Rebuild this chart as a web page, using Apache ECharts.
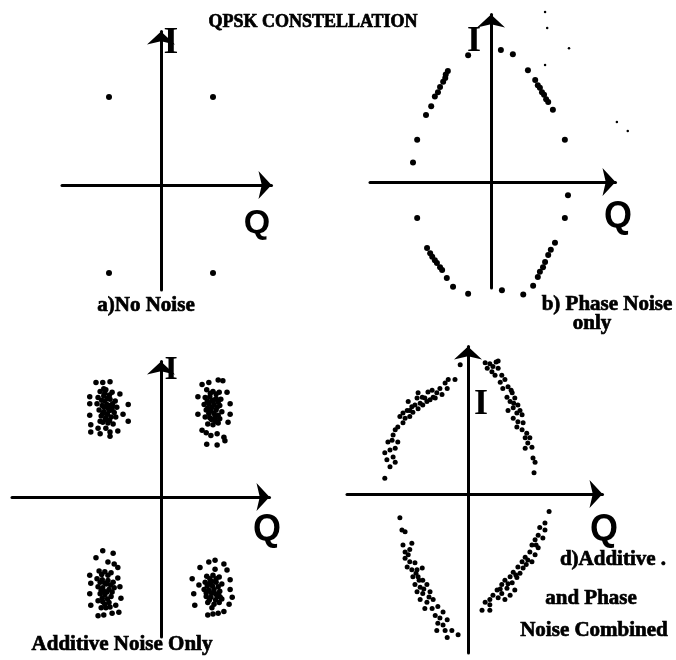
<!DOCTYPE html>
<html>
<head>
<meta charset="utf-8">
<title>QPSK Constellation</title>
<script src="https://cdn.jsdelivr.net/npm/echarts@6/dist/echarts.min.js"></script>
<style>
  html, body { margin: 0; padding: 0; background: #fff; }
  #chart { width: 676px; height: 660px; }
</style>
</head>
<body>
<div id="chart"></div>
<script>
// Normalised amplitudes: ideal QPSK symbols sit at Q = ±1, I = ±1.

// a) No noise
const noNoise = [[-1, 1], [1, 1], [-1, -1], [1, -1]];

// b) Phase noise only: symbols smeared along the constant-amplitude circle
const phaseNoise = [
  [0.19, 1.50], [0.42, 1.45], [0.71, 1.27], [0.85, 1.16], [0.90, 1.10], [0.94, 1.07],
  [0.98, 1.02], [1.02, 0.99], [1.06, 0.94], [1.10, 0.91], [1.19, 0.82], [1.42, 0.48],
  [-0.44, 1.44], [-0.83, 1.26], [-0.87, 1.22], [-0.88, 1.18], [-0.92, 1.14], [-0.98, 1.08],
  [-1.02, 1.02], [-1.08, 0.97], [-1.15, 0.86], [-1.25, 0.76], [-1.42, 0.48], [-1.50, 0.22],
  [1.48, -0.15], [1.42, -0.41], [1.23, -0.69], [1.15, -0.77], [1.10, -0.83], [1.04, -0.91],
  [1.00, -0.97], [0.94, -1.02], [0.90, -1.08], [0.81, -1.18],
  [-1.42, -0.41], [-1.23, -0.75], [-1.17, -0.81], [-1.13, -0.85], [-1.08, -0.89], [-1.04, -0.92],
  [-0.98, -0.97], [-0.94, -1.00], [-0.85, -1.09], [-0.73, -1.19],
  [-0.44, -1.27], [0.21, -1.23], [0.62, -1.28]
];
// faint stray samples in panel b
const phaseStray = [[1.04, 1.93], [1.08, 1.75], [1.50, 1.52], [1.04, 1.33], [2.42, 0.68], [2.63, 0.58]];

// c) Additive noise only: four round clouds
const additiveNoise = [
  // upper left
  [-1.25, 1.30], [-1.12, 1.30], [-0.98, 1.31], [-1.37, 1.14], [-1.37, 1.06], [-1.37, 0.93],
  [-0.79, 1.17], [-0.63, 1.05], [-0.73, 0.94], [-0.63, 0.86], [-1.35, 0.82], [-1.35, 0.74],
  [-1.21, 0.78], [-1.17, 0.72], [-0.98, 0.69], [-0.98, 0.74], [-0.83, 0.75], [-1.10, 1.23],
  [-1.17, 1.20], [-1.06, 1.22], [-0.94, 1.19], [-1.21, 1.13], [-1.10, 1.15], [-0.98, 1.11],
  [-0.88, 1.09], [-1.23, 1.06], [-1.13, 1.04], [-1.04, 1.05], [-0.94, 1.03], [-0.85, 1.02],
  [-1.19, 0.99], [-1.10, 0.97], [-1.00, 0.98], [-0.90, 0.96], [-1.15, 0.92], [-1.06, 0.90],
  [-0.96, 0.91], [-0.87, 0.91], [-1.12, 0.85], [-1.02, 0.84], [-0.92, 0.83], [-1.06, 0.78],
  [-1.17, 0.86], [-1.08, 1.09], [-1.01, 1.01], [-1.08, 1.18], [-0.99, 1.16], [-1.14, 1.10],
  [-1.03, 1.12], [-0.93, 1.06], [-1.09, 1.02], [-0.98, 1.04], [-1.12, 0.95], [-1.03, 0.94],
  [-0.94, 0.99], [-1.07, 0.88], [-0.99, 0.87],
  // upper right
  [0.79, 1.28], [0.92, 1.30], [1.10, 1.33], [1.19, 1.32], [0.71, 1.14], [0.71, 0.94],
  [1.27, 1.19], [1.33, 1.06], [1.33, 0.94], [1.29, 0.85], [0.79, 0.76], [0.87, 0.73],
  [0.96, 0.70], [1.08, 0.72], [1.21, 0.68], [0.88, 0.60], [1.08, 0.59], [1.23, 0.64],
  [0.88, 1.22], [1.00, 1.20], [1.12, 1.19], [0.85, 1.13], [0.94, 1.14], [1.06, 1.12],
  [1.15, 1.11], [0.83, 1.05], [0.92, 1.06], [1.02, 1.05], [1.13, 1.04], [0.87, 0.99],
  [0.96, 0.98], [1.06, 0.99], [1.17, 0.97], [0.85, 0.91], [0.94, 0.90], [1.04, 0.91],
  [1.13, 0.89], [0.90, 0.83], [1.00, 0.82], [1.10, 0.84], [0.98, 1.09], [1.02, 0.95],
  [0.95, 1.18], [1.06, 1.17], [0.89, 1.09], [1.01, 1.10], [1.10, 1.08], [0.90, 1.01],
  [0.98, 1.02], [1.08, 1.02], [0.92, 0.95], [1.10, 0.93], [0.97, 0.88], [1.05, 0.86],
  // lower left
  [-1.12, -0.61], [-0.92, -0.64], [-1.25, -0.69], [-1.02, -0.74], [-0.83, -0.80], [-0.90, -0.76],
  [-1.37, -0.89], [-1.35, -0.98], [-1.37, -1.10], [-1.35, -1.23], [-0.83, -0.92], [-0.79, -1.02],
  [-0.77, -1.15], [-0.87, -1.23], [-1.21, -1.35], [-1.10, -1.34], [-0.94, -1.32], [-0.81, -1.31],
  [-1.19, -0.84], [-1.08, -0.85], [-0.96, -0.86], [-1.23, -0.93], [-1.13, -0.94], [-1.02, -0.95],
  [-0.92, -0.97], [-1.21, -1.02], [-1.12, -1.03], [-1.00, -1.05], [-0.90, -1.03], [-1.17, -1.10],
  [-1.08, -1.11], [-0.96, -1.13], [-1.21, -1.18], [-1.12, -1.19], [-1.00, -1.20], [-1.06, -1.26],
  [-1.15, -1.26], [-1.05, -0.99], [-1.10, -1.07], [-1.14, -0.88], [-1.02, -0.89], [-1.17, -0.97],
  [-1.08, -0.98], [-0.97, -1.00], [-1.15, -1.06], [-1.04, -1.08], [-0.94, -1.08], [-1.13, -1.15],
  [-1.03, -1.16], [-1.08, -1.22], [-0.98, -1.25],
  // lower right
  [0.75, -0.80], [0.92, -0.74], [1.04, -0.72], [1.04, -0.82], [1.21, -0.76], [1.27, -0.83],
  [0.60, -0.93], [0.73, -1.00], [0.63, -1.10], [0.65, -1.23], [1.33, -0.94], [1.33, -1.05],
  [1.37, -1.14], [1.31, -1.22], [0.90, -1.34], [1.00, -1.33], [1.10, -1.32], [1.21, -1.30],
  [0.88, -0.90], [1.00, -0.89], [1.12, -0.91], [0.85, -0.97], [0.94, -0.98], [1.06, -0.97],
  [1.17, -0.99], [0.83, -1.05], [0.92, -1.06], [1.02, -1.05], [1.13, -1.07], [0.87, -1.13],
  [0.96, -1.14], [1.08, -1.13], [1.17, -1.16], [0.90, -1.20], [1.02, -1.22], [1.12, -1.20],
  [0.99, -1.01], [1.05, -1.10], [0.94, -0.93], [1.06, -0.93], [0.89, -1.01], [0.98, -0.96],
  [1.10, -1.02], [0.87, -1.09], [0.97, -1.09], [1.11, -1.11], [0.93, -1.17], [1.05, -1.17],
  [0.98, -1.26], [1.14, -1.14]
];

// d) Additive and phase noise combined: thick arcs
const combinedNoise = [
  // upper left arc
  [-0.15, 1.47], [-0.25, 1.30], [-0.38, 1.30], [-0.44, 1.26], [-0.40, 1.20], [-0.54, 1.20],
  [-0.50, 1.13], [-0.60, 1.15], [-0.67, 1.10], [-0.77, 1.16], [-0.73, 1.07], [-0.83, 1.09],
  [-0.87, 1.01], [-0.96, 1.15], [-0.98, 1.09], [-0.92, 1.03], [-1.02, 1.01], [-1.06, 0.93],
  [-1.15, 1.05], [-1.17, 0.95], [-1.12, 0.88], [-1.21, 0.86], [-1.25, 0.81], [-1.31, 0.88],
  [-1.35, 0.76], [-1.40, 0.73], [-1.44, 0.67], [-1.46, 0.61], [-1.54, 0.59], [-1.35, 0.59],
  [-1.40, 0.52], [-1.50, 0.50], [-1.60, 0.47], [-1.44, 0.42], [-1.56, 0.39], [-1.40, 0.36],
  [-1.50, 0.31], [-1.60, 0.18], [-0.88, 1.10], [-1.08, 0.99], [-0.79, 1.05], [-0.69, 1.18],
  [-0.96, 0.97], [-1.25, 0.92], [-0.63, 1.09], [-1.12, 0.95],
  // upper right arc
  [0.33, 1.49], [0.42, 1.48], [0.54, 1.50], [0.58, 1.51], [0.37, 1.43], [0.46, 1.39],
  [0.58, 1.43], [0.52, 1.35], [0.65, 1.35], [0.62, 1.27], [0.71, 1.30], [0.77, 1.22],
  [0.67, 1.20], [0.85, 1.15], [0.75, 1.10], [0.90, 1.09], [0.81, 1.05], [0.96, 1.01],
  [0.87, 0.98], [0.77, 0.95], [0.94, 0.92], [1.04, 0.90], [0.87, 0.86], [0.96, 0.82],
  [1.06, 0.81], [0.94, 0.76], [1.04, 0.73], [1.13, 0.69], [1.10, 0.64], [1.19, 0.64],
  [1.15, 0.58], [1.23, 0.53], [1.10, 0.52], [1.25, 0.41], [1.29, 0.36], [1.27, 0.24],
  [0.48, 1.45], [0.83, 1.18], [1.00, 0.95], [0.88, 1.03],
  // lower left arc
  [-1.31, -0.27], [-1.27, -0.41], [-1.21, -0.43], [-1.08, -0.56], [-1.25, -0.58], [-1.21, -0.66],
  [-1.15, -0.69], [-1.21, -0.73], [-1.12, -0.77], [-1.02, -0.78], [-1.17, -0.83], [-1.08, -0.86],
  [-0.98, -0.86], [-0.88, -0.84], [-1.06, -0.94], [-0.96, -0.94], [-0.87, -0.98], [-1.02, -1.03],
  [-0.92, -1.06], [-0.79, -1.03], [-0.98, -1.11], [-0.87, -1.13], [-0.73, -1.11], [-0.92, -1.20],
  [-0.79, -1.23], [-0.67, -1.20], [-0.83, -1.30], [-0.69, -1.30], [-0.58, -1.28], [-0.48, -1.34],
  [-0.63, -1.38], [-0.54, -1.41], [-0.40, -1.43], [-0.58, -1.47], [-0.48, -1.49], [-0.60, -1.55],
  [-0.44, -1.55], [-0.31, -1.55], [-0.40, -1.63], [-0.19, -1.60], [-1.12, -0.63], [-0.94, -0.98],
  [-0.85, -1.08], [-0.75, -1.17], [-1.00, -0.90],
  // lower right arc
  [1.56, -0.20], [1.48, -0.33], [1.38, -0.38], [1.48, -0.41], [1.35, -0.47], [1.44, -0.50],
  [1.29, -0.52], [1.23, -0.58], [1.35, -0.61], [1.19, -0.66], [1.29, -0.69], [1.10, -0.72],
  [1.15, -0.75], [1.04, -0.77], [1.23, -0.77], [0.96, -0.83], [1.06, -0.84], [0.87, -0.89],
  [1.00, -0.90], [0.81, -0.94], [0.94, -0.95], [0.71, -0.98], [0.85, -1.01], [0.65, -1.03],
  [0.75, -1.07], [0.90, -1.09], [0.56, -1.09], [0.65, -1.13], [0.81, -1.15], [0.48, -1.15],
  [0.58, -1.18], [0.42, -1.20], [0.71, -1.20], [0.33, -1.23], [0.42, -1.26], [0.27, -1.32],
  [0.42, -1.32], [1.12, -0.80], [0.92, -0.92], [0.77, -1.02], [1.31, -0.58], [0.62, -1.08]
];

// Axis ranges for each panel (Q horizontal, I vertical)
const qRanges = [[-1.904, 2.125], [-2.327, 2.394], [-2.865, 2.087], [-2.327, 2.587]];
const iRanges = [[-1.193, 1.744], [-1.205, 1.903], [-1.591, 1.540], [-1.807, 1.676]];

const ink = '#000';
const serif = '"Liberation Serif", "DejaVu Serif", serif';
const sans = '"Liberation Sans", Arial, sans-serif';

const grids = [
  { left: 62, top: 31.5, width: 209.5, height: 258.5 },
  { left: 370, top: 14.5, width: 245.5, height: 273.5 },
  { left: 12, top: 361.5, width: 257.5, height: 275.5 },
  { left: 347, top: 346.5, width: 255.5, height: 306.5 }
];

const arrowLine = {
  show: true,
  onZero: true,
  symbol: ['none', 'arrow'],
  symbolSize: [21, 13],
  lineStyle: { color: ink, width: 3 }
};

function axis(range, idx) {
  return {
    type: 'value', gridIndex: idx, min: range[0], max: range[1],
    axisLine: arrowLine, axisTick: { show: false }, axisLabel: { show: false },
    splitLine: { show: false }
  };
}

function dots(data, idx, size) {
  return {
    type: 'scatter', xAxisIndex: idx, yAxisIndex: idx, data: data,
    symbol: 'circle', symbolSize: size, clip: false, silent: true,
    itemStyle: { color: ink, opacity: 1 }, z: 3
  };
}

// heavy caption text
function caption(text, x, y, size) {
  return {
    type: 'text', x: x, y: y, z: 10,
    style: {
      text: text, fill: ink, stroke: ink, lineWidth: 0.7,
      font: 'bold ' + size + 'px ' + serif,
      align: 'center', verticalAlign: 'middle'
    }
  };
}

// large axis letters
function letter(text, x, y, family, size, weight) {
  return {
    type: 'text', x: x, y: y, z: 10,
    style: {
      text: text, fill: ink, font: weight + ' ' + size + 'px ' + family,
      align: 'center', verticalAlign: 'middle'
    }
  };
}

const option = {
  backgroundColor: '#fff',
  animation: false,
  grid: grids,
  xAxis: qRanges.map(axis),
  yAxis: iRanges.map(axis),
  series: [
    dots(noNoise, 0, 6),
    dots(phaseNoise, 1, 6),
    dots(phaseStray, 1, 2.5),
    dots(additiveNoise, 2, 5.5),
    dots(combinedNoise, 3, 5)
  ],
  graphic: [
    caption('QPSK CONSTELLATION', 313, 22, 18),
    letter('I', 171, 43, serif, 38, 'bold'),
    letter('Q', 257, 224, sans, 34, 'bold'),
    caption('a)No Noise', 146, 306, 21),
    letter('I', 474, 42, serif, 36, 'bold'),
    letter('Q', 618, 217, sans, 36, 'bold'),
    caption('b) Phase Noise', 607, 305, 21),
    caption('only', 592, 324, 21),
    letter('I', 171, 370, serif, 34, 'bold'),
    letter('Q', 267, 530, sans, 36, 'bold'),
    caption('Additive Noise Only', 122, 645, 21),
    letter('I', 481, 405, serif, 36, 'bold'),
    letter('Q', 604, 530, sans, 36, 'bold'),
    caption('d)Additive .', 613, 560, 21),
    caption('and Phase', 591, 599, 21),
    caption('Noise Combined', 594, 631, 21)
  ]
};

echarts.init(document.getElementById('chart'), null, { renderer: 'canvas' }).setOption(option);
</script>
</body>
</html>
